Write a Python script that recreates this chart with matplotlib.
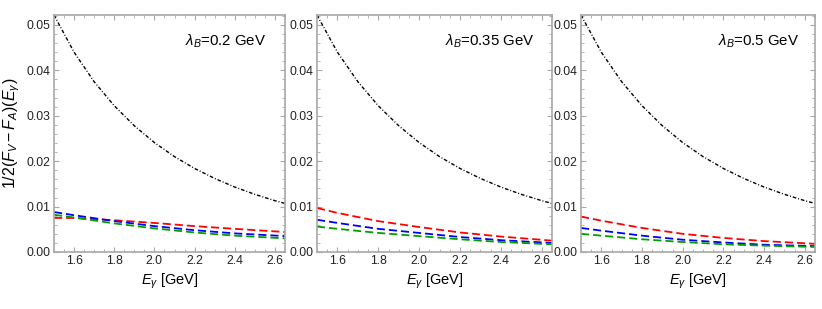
"""Three-panel plot of 1/2(F_V - F_A)(E_gamma) for different lambda_B values."""
import matplotlib
matplotlib.use('Agg')
import matplotlib.pyplot as plt
from matplotlib.ticker import MultipleLocator, FormatStrFormatter

plt.rcParams['font.family'] = ['Liberation Sans', 'DejaVu Sans']
plt.rcParams['mathtext.fontset'] = 'custom'
plt.rcParams['mathtext.rm'] = 'Liberation Sans'
plt.rcParams['mathtext.it'] = 'Liberation Sans:italic'

# black dot-dashed curve (same in every panel)
E_black = [1.50, 1.60, 1.70, 1.80, 1.90, 2.00, 2.10, 2.20, 2.30, 2.40, 2.50, 2.60, 2.65]
F_black = [0.0522, 0.0440, 0.0375, 0.0322, 0.0278, 0.0241, 0.0210, 0.0184,
           0.0162, 0.0143, 0.0127, 0.0113, 0.0107]

# coloured dashed curves, one list per panel
E_col = [1.50, 1.60, 1.80, 2.00, 2.20, 2.40, 2.65]
lambdas = ['0.2', '0.35', '0.5']
red = [
    [0.0075, 0.0075, 0.0070, 0.0064, 0.0057, 0.0051, 0.0044],
    [0.0097, 0.0086, 0.0068, 0.0055, 0.0043, 0.0034, 0.0025],
    [0.0078, 0.0069, 0.0053, 0.0040, 0.0031, 0.0024, 0.0018],
]
blue = [
    [0.0088, 0.0081, 0.0068, 0.0057, 0.0048, 0.0041, 0.0035],
    [0.0071, 0.0064, 0.0051, 0.0042, 0.0033, 0.0026, 0.0020],
    [0.0053, 0.0047, 0.0036, 0.0027, 0.0021, 0.0016, 0.0013],
]
green = [
    [0.0082, 0.0076, 0.0063, 0.0052, 0.0043, 0.0036, 0.0030],
    [0.0056, 0.0051, 0.0042, 0.0035, 0.0028, 0.0022, 0.0017],
    [0.0040, 0.0036, 0.0028, 0.0022, 0.0017, 0.0014, 0.0011],
]

label_x = [0.745, 0.736, 0.761]
lefts = [54, 317, 581]
widths = [231, 235, 234]
W, H = 822, 309
FRAME = '#a8a8a8'

fig = plt.figure(figsize=(W / 100, H / 100), dpi=100)

for i in range(3):
    ax = fig.add_axes([lefts[i] / W, 57 / H, widths[i] / W, 237 / H])
    ax.plot(E_col, red[i], color='#ff0000', lw=1.3, dashes=(4.5, 2.2))
    ax.plot(E_col, blue[i], color='#0000ff', lw=1.3, dashes=(4.5, 2.2))
    ax.plot(E_col, green[i], color='#00a000', lw=1.3, dashes=(4.5, 2.2))
    ax.plot(E_black, F_black, color='black', lw=1.0, dashes=(2.6, 1.4, 0.7, 1.4))

    ax.set_xlim(1.5, 2.65)
    ax.set_ylim(0, 0.0522)
    ax.xaxis.set_major_locator(MultipleLocator(0.2))
    ax.xaxis.set_minor_locator(MultipleLocator(0.05))
    ax.yaxis.set_major_locator(MultipleLocator(0.01))
    ax.yaxis.set_minor_locator(MultipleLocator(0.002))
    ax.yaxis.set_major_formatter(FormatStrFormatter('%.2f'))
    ax.tick_params(which='both', direction='in', top=True, right=True,
                   color=FRAME, labelsize=8.8, pad=2.5, labelcolor='#222222')
    ax.tick_params(which='major', length=3.5, width=0.8)
    ax.tick_params(which='minor', length=2, width=0.6)
    for s in ax.spines.values():
        s.set_color(FRAME)
        s.set_linewidth(1.2)

    ax.set_xlabel(r'$E_\gamma$ [GeV]', fontsize=10.5, labelpad=3)
    ax.text(label_x[i], 0.89, r'$\lambda_B$=' + lambdas[i] + ' GeV',
            transform=ax.transAxes, ha='center', va='center', fontsize=10.8)
    if i == 0:
        ax.set_ylabel(r'1/2$(F_V - F_A)(E_\gamma)$', fontsize=11.5, labelpad=3)

fig.savefig('out.png', dpi=100)
